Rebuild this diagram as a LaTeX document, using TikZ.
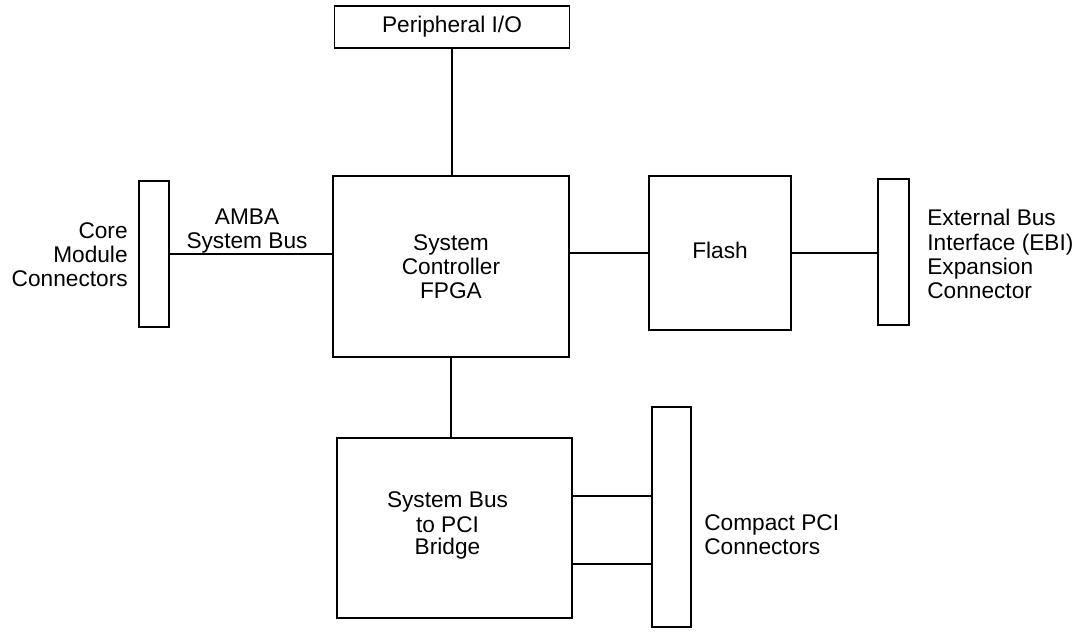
\documentclass[tikz,border=0pt]{standalone}
\usepackage{fontspec}
\setmainfont{Liberation Sans}
\usepackage{tikz}
\usetikzlibrary{
    positioning,
    calc
}
\tikzset{
    bblock/.style={
        rectangle, draw=black, line width=1.1pt, fill=white, text=black,
        align=center, font=\fontsize{12.9}{13.7}\selectfont, inner sep=0pt
    },
    bconn/.style={
        rectangle, draw=black, line width=1.1pt, fill=white, inner sep=0pt
    },
    blabel/.style={
        align=center, font=\fontsize{12.9}{13.7}\selectfont, inner sep=0pt
    },
    blink/.style={line width=1.1pt, black},
}
\begin{document}
\begin{tikzpicture}[x=0.02cm, y=-0.02cm]

    \useasboundingbox (0,0) rectangle (1089,638);

    % main blocks
    \node [bblock, minimum width=4.7cm, minimum height=0.84cm]
        (pio) at (452,27) {Peripheral I/O};
    \node [bblock, minimum width=4.72cm, minimum height=3.62cm]
        (fpga) at (451,266.5) {System\\Controller\\FPGA};
    \node [bblock, minimum width=2.84cm, minimum height=3.08cm]
        (flash) at (720,253) {\raisebox{0.12cm}{Flash}};
    \node [bblock, minimum width=4.7cm, minimum height=3.6cm]
        (bridge) at (454.5,528) {\raisebox{0.2cm}{\hspace*{-0.28cm}\shortstack{System Bus\\to PCI\\Bridge}}};

    % connectors
    \node [bconn, minimum width=0.6cm, minimum height=2.92cm] (core) at (154,254) {};
    \node [bconn, minimum width=0.62cm, minimum height=2.92cm] (ebi) at (893.5,252) {};
    \node [bconn, minimum width=0.78cm, minimum height=4.4cm] (pci) at (671.5,517) {};

    % labels
    \node [blabel, anchor=east, align=right] (corelbl) at (128,255) {Core\\Module\\Connectors};
    \node [blabel] (ambalbl) at (247,231) {AMBA\\System Bus};
    \node [blabel, anchor=west, align=left] (ebilbl) at (927,254) {External Bus\\Interface (EBI)\\Expansion\\Connector};
    \node [blabel, anchor=west, align=left] (pcilbl) at (704,535) {Compact PCI\\Connectors};

    % links
    \draw [blink] (pio.south) -- (pio.south |- fpga.north);
    \draw [blink] (core.east) -- (core.east -| fpga.west);
    \draw [blink] (flash.west) -- (flash.west -| fpga.east);
    \draw [blink] (flash.east) -- (flash.east -| ebi.west);
    \draw [blink] (fpga.south) -- (fpga.south |- bridge.north);
    \draw [blink] ($(bridge.east)+(0,-32)$) coordinate (pcia) -- (pcia -| pci.west);
    \draw [blink] ($(bridge.east)+(0,36)$) coordinate (pcib) -- (pcib -| pci.west);

\end{tikzpicture}
\end{document}
